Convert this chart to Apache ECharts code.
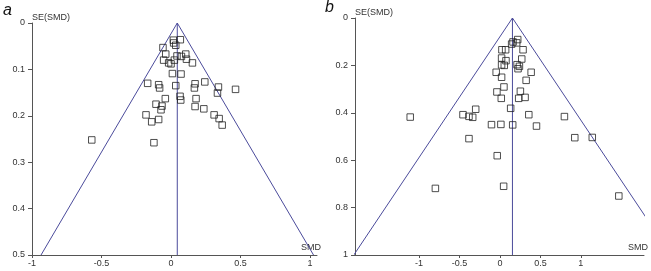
<!DOCTYPE html>
<html>
<head>
<meta charset="utf-8">
<script src="https://cdn.jsdelivr.net/npm/echarts@6/dist/echarts.min.js"></script>
<style>
html, body {margin: 0; padding: 0; background: #fff;}
#chart {width: 651px; height: 271px;}
</style>
</head>
<body>
<div id="chart"></div>
<script>
// 图a 数据
var smdA = [0.067, 0.017, 0.019, 0.034, -0.058, -0.038, 0.043, 0.075, 0.106, -0.053, 0.024, -0.017, 0.000, 0.111, 0.154,
    0.010, 0.072, -0.168, -0.089, -0.082, 0.034, 0.173, 0.168, 0.243, 0.341, 0.334, 0.464, -0.041, 0.065, 0.070, 0.180,
    -0.108, -0.065, -0.072, 0.173, 0.236, -0.180, -0.139, -0.089, 0.310, 0.346, 0.368, -0.570, -0.123];
var seA = [0.036, 0.037, 0.043, 0.048, 0.053, 0.067, 0.071, 0.072, 0.067, 0.080, 0.080, 0.086, 0.088, 0.078, 0.086,
    0.109, 0.110, 0.130, 0.133, 0.140, 0.135, 0.131, 0.140, 0.127, 0.138, 0.151, 0.143, 0.163, 0.158, 0.166, 0.163,
    0.175, 0.179, 0.187, 0.180, 0.185, 0.198, 0.213, 0.208, 0.198, 0.206, 0.220, 0.252, 0.258];
var pooledA = 0.045;
var seMaxA = 0.5;
var xTicksA = [-1, -0.5, 0, 0.5, 1];

// 图b 数据
var smdB = [0.220, 0.207, 0.162, 0.145, 0.025, 0.071, 0.286, 0.021, 0.075, 0.270, 0.021, 0.054, 0.212, 0.241, 0.224,
    0.386, -0.046, 0.021, 0.324, 0.050, -0.037, 0.253, 0.017, 0.232, 0.311, 0.133, -0.299, -0.456, -0.382, -0.336,
    -1.108, 0.357, 0.797, -0.104, 0.012, 0.158, 0.452, -0.382, 0.925, 1.141, -0.033, -0.797, 0.046, 1.469];
var seB = [0.091, 0.105, 0.101, 0.110, 0.134, 0.134, 0.134, 0.169, 0.180, 0.173, 0.198, 0.200, 0.197, 0.204, 0.214,
    0.229, 0.229, 0.250, 0.263, 0.291, 0.312, 0.309, 0.339, 0.339, 0.335, 0.381, 0.385, 0.408, 0.415, 0.419,
    0.418, 0.408, 0.416, 0.450, 0.449, 0.451, 0.456, 0.509, 0.505, 0.504, 0.581, 0.719, 0.710, 0.751];
var pooledB = 0.155;
var seMaxB = 1;
var xTicksB = [-1, -0.5, 0, 0.5, 1];

var lineColor = '#4b4b9b';
var axisColor = '#555';
var textColor = '#333';

function toPoints(xs, ys) {
    return xs.map(function (x, i) { return [x, ys[i]]; });
}

// 漏斗线（95%置信界限）
function funnel(pooled, seMax) {
    return [[pooled - 1.96 * seMax, seMax], [pooled, 0], [pooled + 1.96 * seMax, seMax]];
}

function xAxisOf(gridIndex, min, max, ticks) {
    return {
        gridIndex: gridIndex,
        type: 'value',
        min: min,
        max: max,
        position: 'bottom',
        name: 'SMD',
        nameLocation: 'end',
        nameGap: 4,
        nameTextStyle: {color: textColor, fontSize: 9, fontFamily: 'Liberation Sans', align: 'right', verticalAlign: 'bottom', padding: [0, 0, 3, 0]},
        axisLine: {onZero: false, lineStyle: {color: axisColor}},
        axisTick: {show: true, length: 3, customValues: ticks, lineStyle: {color: axisColor}},
        axisLabel: {customValues: ticks, margin: 4, color: textColor, fontSize: 9, fontFamily: 'Liberation Sans'},
        splitLine: {show: false}
    };
}

function yAxisOf(gridIndex, max, interval) {
    return {
        gridIndex: gridIndex,
        type: 'value',
        inverse: true,
        min: 0,
        max: max,
        interval: interval,
        name: 'SE(SMD)',
        nameLocation: 'start',
        nameGap: 1,
        nameTextStyle: {color: textColor, fontSize: 9, fontFamily: 'Liberation Sans', align: 'left'},
        axisLine: {onZero: false, lineStyle: {color: axisColor}},
        axisTick: {show: true, length: 4, lineStyle: {color: axisColor}},
        axisLabel: {margin: 7, color: textColor, fontSize: 9, fontFamily: 'Liberation Sans'},
        splitLine: {show: false}
    };
}

function showFunnel() {
    var myChart = echarts.init(document.getElementById('chart'));
    var dotStyle = {color: 'none', borderColor: '#222', borderWidth: 1};
    var option = {
        animation: false,
        grid: [
            {left: 32, top: 23, width: 285, height: 232},
            {left: 355, top: 18, width: 289, height: 237}
        ],
        graphic: [
            {type: 'text', left: 3, top: 3, style: {text: 'a', fontSize: 16, fontStyle: 'italic', fontFamily: 'Liberation Sans', fill: '#111'}},
            {type: 'text', left: 325, top: 0, style: {text: 'b', fontSize: 16, fontStyle: 'italic', fontFamily: 'Liberation Sans', fill: '#111'}}
        ],
        xAxis: [
            xAxisOf(0, -1, 1.05, xTicksA),
            xAxisOf(1, -1.79, 1.78, xTicksB)
        ],
        yAxis: [
            yAxisOf(0, 0.5, 0.1),
            yAxisOf(1, 1, 0.2)
        ],
        series: [
            {
                type: 'line', xAxisIndex: 0, yAxisIndex: 0,
                data: funnel(pooledA, seMaxA), symbol: 'none',
                lineStyle: {color: lineColor, width: 1}, z: 1
            },
            {
                type: 'line', xAxisIndex: 0, yAxisIndex: 0,
                data: [[pooledA, 0], [pooledA, seMaxA]], symbol: 'none',
                lineStyle: {color: lineColor, width: 1}, z: 1
            },
            {
                type: 'scatter', xAxisIndex: 0, yAxisIndex: 0,
                data: toPoints(smdA, seA), symbol: 'rect', symbolSize: 6.5,
                itemStyle: dotStyle, z: 2
            },
            {
                type: 'line', xAxisIndex: 1, yAxisIndex: 1,
                data: funnel(pooledB, seMaxB), symbol: 'none', clip: true,
                lineStyle: {color: lineColor, width: 1}, z: 1
            },
            {
                type: 'line', xAxisIndex: 1, yAxisIndex: 1,
                data: [[pooledB, 0], [pooledB, seMaxB]], symbol: 'none',
                lineStyle: {color: lineColor, width: 1}, z: 1
            },
            {
                type: 'scatter', xAxisIndex: 1, yAxisIndex: 1,
                data: toPoints(smdB, seB), symbol: 'rect', symbolSize: 6.5,
                itemStyle: dotStyle, z: 2
            }
        ]
    };
    myChart.setOption(option);
}

showFunnel();
</script>
</body>
</html>
